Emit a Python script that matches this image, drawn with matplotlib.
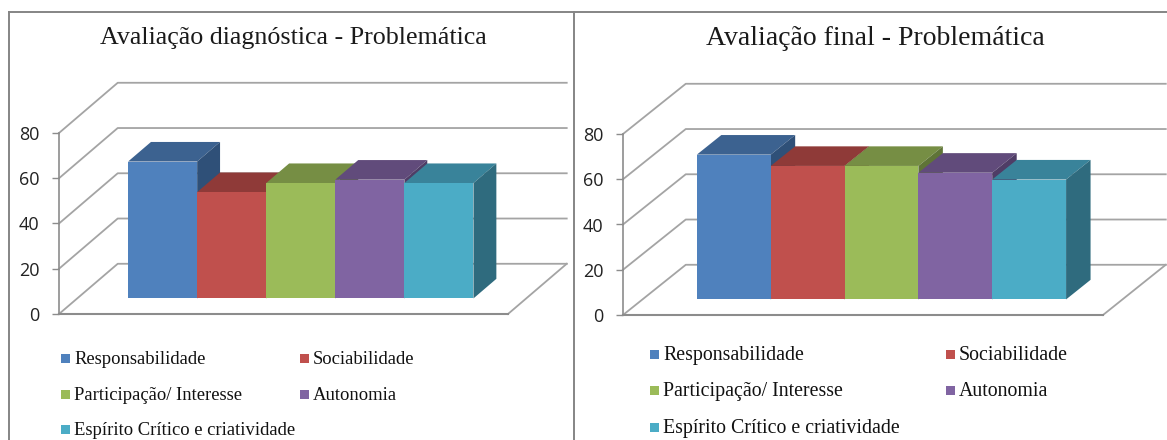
import matplotlib
matplotlib.use('Agg')
import matplotlib.pyplot as plt
from matplotlib.patches import Rectangle

W = 1167
H = 440

categories = ['Responsabilidade', 'Sociabilidade', 'Participação/ Interesse', 'Autonomia', 'Espírito Crítico e criatividade']
values_diag = [60.5, 47, 51, 52.5, 51]
values_final = [64, 59, 59, 56, 53]
yticks = [0, 20, 40, 60, 80]

front_colors = ['#4F81BD', '#C0504D', '#9BBB59', '#8064A2', '#4BACC6']
top_colors = ['#3C6290', '#8F3A38', '#768E44', '#614B7B', '#39839A']
side_colors = ['#2F5078', '#763230', '#5F7437', '#4F3D66', '#2F6B7E']
grid_color = '#A4A4A4'

# profundidad del piso y de las barras
depth_x = 0.85
depth_y = 22.2
gap = 0.31
bar_depth = 0.39


def pixelAxes(fig, left, right, top, bottom):
    return fig.add_axes([left/W, 1 - bottom/H, (right - left)/W, (bottom - top)/H])


def drawPanel(fig, box, values, title, title_x, title_size, legend_x, legend_y, legend_size):
    ax = pixelAxes(fig, *box)
    ax.set_xlim(-1.5, 5)
    ax.set_ylim(0, 80)
    ax.patch.set_alpha(0)

    # paredes y piso
    x0, x1 = -1.5, 5
    for t in yticks:
        ax.plot([x0, x0 + depth_x, x1 + depth_x], [t, t + depth_y, t + depth_y],
                color=grid_color, lw=1.3, clip_on=False, zorder=1)
    ax.plot([x1, x1 + depth_x], [0, depth_y], color=grid_color, lw=1.3, clip_on=False, zorder=1)
    ax.plot([x0, x1], [0, 0], color='#8C8C8C', lw=1.5, clip_on=False, zorder=1)
    ax.plot([x0, x0], [0, 80], color='#8C8C8C', lw=1.2, clip_on=False, zorder=1)

    # barras, de izquierda a derecha para que tapen bien
    base = gap*depth_y
    dx = bar_depth*depth_x
    dy = bar_depth*depth_y
    z = 2
    for i, v in enumerate(values):
        xl, xr = i - 0.5, i + 0.5
        top = base + v
        ax.fill([xl, xr, xr + dx, xl + dx], [top, top, top + dy, top + dy],
                color=top_colors[i], lw=0, clip_on=False, zorder=z)
        ax.fill([xr, xr + dx, xr + dx, xr], [base, base + dy, top + dy, top],
                color=side_colors[i], lw=0, clip_on=False, zorder=z)
        ax.bar(i, v, width=1, bottom=base, color=front_colors[i], lw=0, clip_on=False, zorder=z + 1)
        z += 2

    for s in ax.spines.values():
        s.set_visible(False)
    ax.set_xticks([])
    ax.set_yticks(yticks)
    ax.set_yticklabels([str(t) for t in yticks], family='Open Sans', fontsize=13, color='#222222')
    ax.tick_params(axis='y', length=5, width=1, color='#8C8C8C', pad=9)

    fig.text(title_x/W, 1 - 38/H, title, family='Liberation Serif', fontsize=title_size,
             color='#1A1A1A', ha='center', va='center')

    # leyenda
    for i, name in enumerate(categories):
        lx = legend_x[i % 2]
        ly = legend_y[i//2]
        fig.patches.append(Rectangle(((lx)/W, 1 - (ly + 4.5)/H), 9/W, 9/H, transform=fig.transFigure,
                                     facecolor=front_colors[i], edgecolor='none'))
        fig.text((lx + 13)/W, 1 - (ly + 1.5)/H, name, family='Liberation Serif', fontsize=legend_size,
                 color='#111111', ha='left', va='center')


fig = plt.figure(figsize=(W/100, H/100), dpi=100, facecolor='white')

# marco de los paneles
border = '#858585'
fig.add_artist(plt.Line2D([9/W, 1], [1 - 12.5/H, 1 - 12.5/H], color=border, lw=1.4))
fig.add_artist(plt.Line2D([9/W, 9/W], [0, 1 - 12.5/H], color=border, lw=1.4))
fig.add_artist(plt.Line2D([574/W, 574/W], [0, 1 - 12.5/H], color=border, lw=1.4))

drawPanel(fig, (59, 508, 133, 314), values_diag, 'Avaliação diagnóstica - Problemática', 293, 18.7,
          (61, 300), (358, 394, 429), 13.4)
drawPanel(fig, (623, 1103, 134, 315), values_final, 'Avaliação final - Problemática', 875, 20,
          (650, 946), (354, 390, 427), 14.3)

fig.savefig('out.png', dpi=100)
